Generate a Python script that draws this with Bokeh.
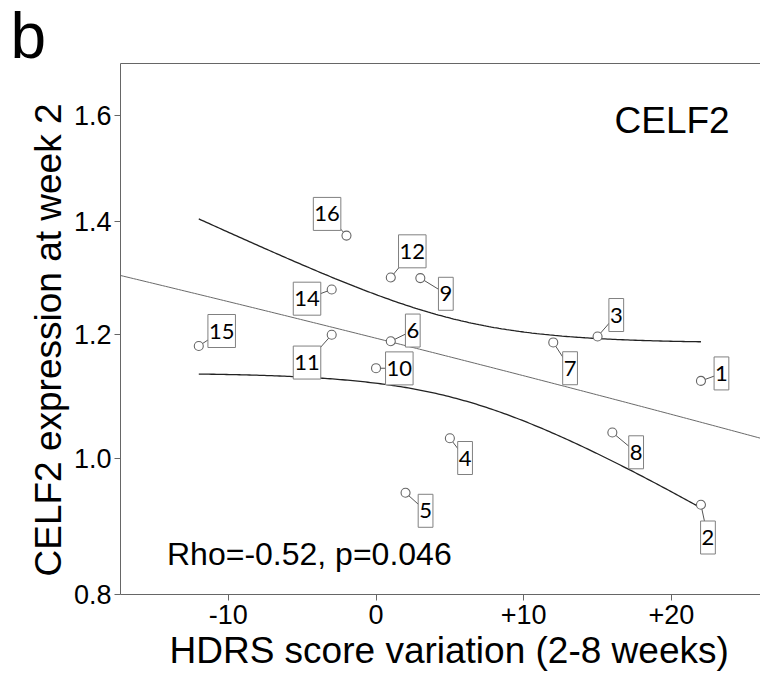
import numpy as np
from bokeh.plotting import figure
from bokeh.models import (ColumnDataSource, FixedTicker, CustomJSTickFormatter,
                          Label, LinearAxis, Range1d, Title)
from bokeh.core.properties import value
from bokeh.embed import file_html
from bokeh.resources import INLINE

# ---------------- data ----------------
subject_ids = ["1", "2", "3", "4", "5", "6", "7", "8", "9", "10",
               "11", "12", "14", "15", "16"]
hdrs_variation = [22, 22, 15, 5, 2, 1, 12, 16, 3, 0, -3, 1, -3, -12, -2]
celf2_week2 = [1.123, 0.929, 1.197, 1.031, 0.947, 1.189, 1.187, 1.040,
               1.298, 1.144, 1.200, 1.299, 1.278, 1.181, 1.374]
x_ticks = [-10, 0, 10, 20]
y_ticks = [0.8, 1.0, 1.2, 1.4, 1.6]
gene_name = "CELF2"
stat_text = "Rho=-0.52, p=0.046"
x_title = "HDRS score variation (2-8 weeks)"
y_title = "CELF2 expression at week 2"
panel_letter = "b"

# label box offsets from each point, in screen px (layout only; +dy = down)
label_dx = [20.5, 7, 18.7, 15.2, 20, 22, 16.8, 23.8, 25.5, 23.3,
            -24.7, 21.5, -24.7, 22.9, -19.4]
label_dy = [-7.5, 32.7, -21.5, 19.8, 18, -10.7, 25.8, 19.8, 15.7, 0.2,
            27.8, -26.2, 9.2, -15, -21.7]

# ---------------- layout ----------------
W, H = 760, 673
BL, BR, BT, BB = 120, 0, 63, 79
FW, FH = W - BL - BR, H - BT - BB
x_start = -17.3
x_end = x_start + FW / 14.77
y_bottom, y_top = 0.8, 1.704          # square-root (power 0.5) scaled y axis
ys_start, ys_end = np.sqrt(y_bottom), np.sqrt(y_top)
px_x = FW / (x_end - x_start)
px_y = FH / (ys_end - ys_start)

FONT = "Liberation Sans"

p = figure(width=W, height=H, x_range=Range1d(x_start, x_end),
           y_range=Range1d(ys_start, ys_end), output_backend="svg",
           toolbar_location=None, min_border_left=BL, min_border_right=BR,
           min_border_top=BT, min_border_bottom=BB)
p.outline_line_color = None
p.grid.visible = False
p.background_fill_color = "white"
p.border_fill_color = "white"

AX_COL = "#666666"
for ax in (p.xaxis[0], p.yaxis[0]):
    ax.axis_line_color = AX_COL
    ax.major_tick_line_color = AX_COL
    ax.minor_tick_line_color = None
    ax.major_tick_in = 0
    ax.major_tick_out = 6
    ax.major_label_text_font = FONT
    ax.major_label_text_font_size = "27px"
    ax.major_label_text_color = "black"

p.xaxis[0].ticker = FixedTicker(ticks=x_ticks)
p.xaxis[0].formatter = CustomJSTickFormatter(
    code="return tick > 0 ? '+' + tick : tick.toString();")
p.xaxis[0].major_label_standoff = 4

p.yaxis[0].ticker = FixedTicker(ticks=[float(np.sqrt(v)) for v in y_ticks])
p.yaxis[0].formatter = CustomJSTickFormatter(code="return (tick*tick).toFixed(1);")
p.yaxis[0].major_label_standoff = 3

top_axis = LinearAxis(ticker=FixedTicker(ticks=[]), axis_line_color=AX_COL,
                      major_tick_line_color=None, minor_tick_line_color=None,
                      major_tick_out=0, major_tick_in=0, major_label_standoff=0,
                      major_label_text_font_size="0px")
p.add_layout(top_axis, "above")

# ---------------- regression & 95% CI ----------------
x = np.array(hdrs_variation, dtype=float)
y = np.array(celf2_week2, dtype=float)
n = len(x)
slope, intercept = np.polyfit(x, y, 1)
resid = y - (intercept + slope * x)
s = np.sqrt(resid @ resid / (n - 2))
t_crit = 2.1604  # t(0.975, df=13)
sxx = ((x - x.mean()) ** 2).sum()

xf = np.linspace(x_start, x_end, 200)
yf = intercept + slope * xf
p.line(xf, np.sqrt(yf), line_color="#6a6a6a", line_width=1)

xb = np.linspace(x.min(), x.max(), 200)
se = s * np.sqrt(1 / n + (xb - x.mean()) ** 2 / sxx)
upper = intercept + slope * xb + t_crit * se
lower = intercept + slope * xb - t_crit * se
p.line(xb, np.sqrt(upper), line_color="#222222", line_width=1.3)
p.line(xb, np.sqrt(lower), line_color="#222222", line_width=1.3)

# ---------------- points with labelled boxes ----------------
ys = np.sqrt(y)
dx = np.array(label_dx)
dy = np.array(label_dy)
src = ColumnDataSource(dict(x=x, ys=ys, id=subject_ids, dx=dx, dy=dy,
                            x1=x + dx / px_x, y1=ys - dy / px_y))

p.segment(x0="x", y0="ys", x1="x1", y1="y1", source=src,
          line_color="#555555", line_width=1)
p.text(x="x", y="ys", text="id", x_offset="dx", y_offset="dy", source=src,
       text_align="center", text_baseline="middle",
       text_font=value("Lato"), text_font_size="22px", text_color="black",
       background_fill_color="white", border_line_color="#808080",
       border_line_width=1, padding=dict(left=1, right=1, top=9, bottom=9))
p.scatter(x="x", y="ys", source=src, size=9, marker="circle",
          fill_color="white", line_color="#666666", line_width=1.1)

# ---------------- texts ----------------
def mk(text, sx, sy, size, **kw):
    return Label(x=sx, y=sy, x_units="screen", y_units="screen",
                 text=text, text_font=FONT, text_font_size=size,
                 text_color="black", text_baseline="middle", **kw)

# inside the frame
p.add_layout(mk(gene_name, 494, 474, "37px"))
p.add_layout(mk(stat_text, 46.5, 40.5, "32px"))

# outside the frame (side panels are not clipped to the frame)
p.add_layout(Title(text=panel_letter, align="left", offset=-110,
                   vertical_align="bottom", standoff=-16, text_font=FONT,
                   text_font_size="64px", text_font_style="normal",
                   text_color="black"), "above")
p.add_layout(mk(x_title, 49, 17, "37px"), "below")
p.add_layout(mk(y_title, 18.7, 18, "37px", angle=np.pi / 2), "left")

open("out.html", "w").write(file_html(p, INLINE))
